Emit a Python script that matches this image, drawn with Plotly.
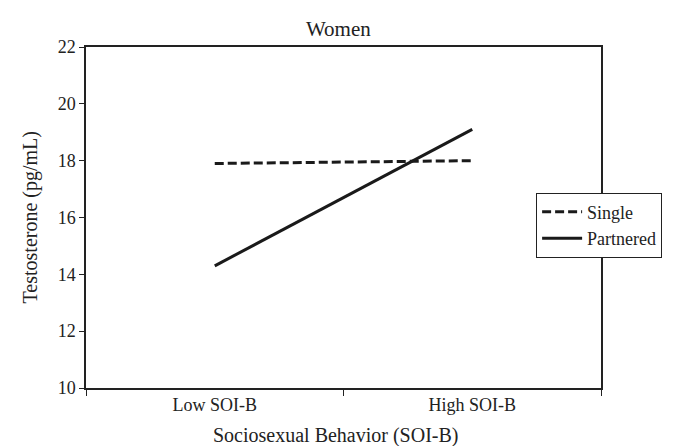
import plotly.graph_objects as go

categories = ["Low SOI-B", "High SOI-B"]
single = [17.9, 18.0]
partnered = [14.3, 19.1]
y_ticks = [10, 12, 14, 16, 18, 20, 22]

font = "Liberation Serif, Times New Roman, serif"

fig = go.Figure()
fig.add_trace(go.Scatter(x=categories, y=single, mode="lines", name="Single",
                         line=dict(color="#1a1a1a", width=3, dash="9px,4px")))
fig.add_trace(go.Scatter(x=categories, y=partnered, mode="lines", name="Partnered",
                         line=dict(color="#1a1a1a", width=3)))

fig.update_layout(
    width=675, height=446,
    # page body has an 8px margin, so margins are compensated
    margin=dict(l=78, r=82, t=39, b=66),
    paper_bgcolor="white", plot_bgcolor="white",
    font=dict(family=font, size=18, color="#222"),
    title=dict(text="Women", x=0.49, xref="paper", xanchor="center",
               y=0.953, yanchor="middle",
               font=dict(family=font, size=21, color="#222")),
    showlegend=True,
    legend=dict(x=0.874, y=0.573, xanchor="left", yanchor="top", bgcolor="white",
                bordercolor="#222", borderwidth=1, font=dict(family=font, size=18),
                tracegroupgap=0, itemwidth=40),
    xaxis=dict(type="category", range=[-0.5, 1.5], tickson="boundaries",
               showline=True, linecolor="#222", linewidth=1.5, mirror=True,
               ticks="outside", ticklen=6, tickcolor="#222",
               showgrid=False, zeroline=False, automargin=False),
    yaxis=dict(range=[10, 22], tickvals=y_ticks,
               showline=True, linecolor="#222", linewidth=1.5, mirror=True,
               ticks="outside", ticklen=5, tickcolor="#222",
               showgrid=False, zeroline=False, automargin=False),
    annotations=[
        dict(text="Sociosexual Behavior (SOI-B)", xref="paper", yref="paper",
             x=0.485, y=0, yshift=-47, xanchor="center", yanchor="middle",
             showarrow=False, font=dict(family=font, size=20, color="#222")),
        dict(text="Testosterone (pg/mL)", xref="paper", yref="paper",
             x=0, xshift=-56, y=0.5, xanchor="center", yanchor="middle",
             textangle=-90, showarrow=False, font=dict(family=font, size=20, color="#222")),
    ],
)

fig.write_html("out.html")
